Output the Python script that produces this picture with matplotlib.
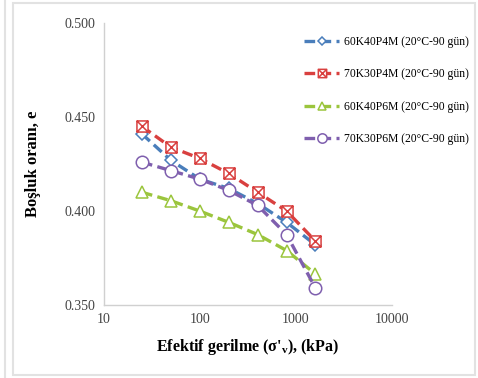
import matplotlib

matplotlib.use("Agg")
import matplotlib.pyplot as plt
from matplotlib.path import Path
from matplotlib.patches import Rectangle
from matplotlib.lines import Line2D

plt.rcParams["font.family"] = ["Liberation Serif", "DejaVu Serif"]
plt.rcParams["mathtext.default"] = "regular"

# effective stress, kPa
stress = [25, 50, 100, 200, 400, 800, 1600]

e_60k40p4m = [0.441, 0.427, 0.417, 0.412, 0.404, 0.394, 0.382]
e_70k30p4m = [0.445, 0.434, 0.428, 0.420, 0.410, 0.400, 0.384]
e_60k40p6m = [0.410, 0.4055, 0.400, 0.394, 0.3875, 0.379, 0.3665]
e_70k30p6m = [0.426, 0.4215, 0.417, 0.411, 0.403, 0.3875, 0.359]

labels = [
    "60K40P4M (20°C-90 gün)",
    "70K30P4M (20°C-90 gün)",
    "60K40P6M (20°C-90 gün)",
    "70K30P6M (20°C-90 gün)",
]

y_ticks = [0.350, 0.400, 0.450, 0.500]
x_ticks = [10, 100, 1000, 10000]

BLUE = "#4a7ebb"
RED = "#d9403f"
GREEN = "#9bc53d"
PURPLE = "#7f5fae"

# square with a cross inside
box_x = Path(
    [(-1, -1), (1, -1), (1, 1), (-1, 1), (-1, -1), (-1, -1), (1, 1), (-1, 1), (1, -1)],
    [Path.MOVETO, Path.LINETO, Path.LINETO, Path.LINETO, Path.CLOSEPOLY,
     Path.MOVETO, Path.LINETO, Path.MOVETO, Path.LINETO],
)

series = [
    (e_60k40p4m, BLUE, "D", 6),
    (e_70k30p4m, RED, box_x, 8),
    (e_60k40p6m, GREEN, "^", 8),
    (e_70k30p6m, PURPLE, "o", 9),
]

fig = plt.figure(figsize=(4.78, 3.78), dpi=100)
ax = fig.add_axes([0.217, 0.193, 0.603, 0.746])

for (vals, color, marker, ms), label in zip(series, labels):
    ax.plot(stress, vals, color=color, linestyle=(0, (3.2, 1.6)), linewidth=2.4,
            marker=marker, markersize=ms, markerfacecolor="white",
            markeredgecolor=color, markeredgewidth=1.1, label=label)

ax.set_xscale("log")
ax.set_xlim(10, 10000)
ax.set_ylim(0.350, 0.500)
ax.set_xticks(x_ticks)
ax.set_xticklabels([str(t) for t in x_ticks])
ax.minorticks_off()
ax.set_yticks(y_ticks)
ax.set_yticklabels([f"{t:.3f}" for t in y_ticks])
ax.tick_params(length=0, labelsize=10, colors="#444444", pad=6)
for side in ("top", "right"):
    ax.spines[side].set_visible(False)
for side in ("left", "bottom"):
    ax.spines[side].set_color("#d0d0d0")
    ax.spines[side].set_linewidth(1.0)

ax.set_ylabel("Boşluk oranı, e", fontsize=12, fontweight="bold", labelpad=17)
ax.set_xlabel("Efektif gerilme (σ'$_v$), (kPa)", fontsize=11.5, fontweight="bold", labelpad=8)

ax.legend(loc="upper left", bbox_to_anchor=(0.636, 0.905), bbox_transform=fig.transFigure,
          frameon=False, fontsize=8.4, handlelength=3.0, handletextpad=0.4,
          labelspacing=1.75, borderpad=0, borderaxespad=0, markerscale=0.75)

# outer frame lines
fig.add_artist(Rectangle((13 / 478, 3 / 378), 462 / 478, 372 / 378, transform=fig.transFigure,
                         fill=False, edgecolor="#e2e2e2", linewidth=1.5))
fig.add_artist(Line2D([5 / 478, 5 / 478], [0, 1], transform=fig.transFigure,
                      color="#e2e2e2", linewidth=1.5))

fig.savefig("out.png", dpi=100)
